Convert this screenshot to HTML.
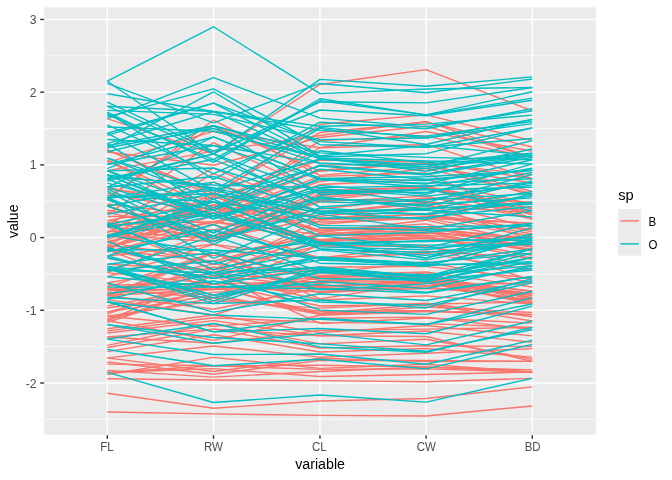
<!DOCTYPE html>
<html><head><meta charset="utf-8"><title>plot</title>
<style>
html,body{margin:0;padding:0;background:#fff;}
body{width:672px;height:480px;overflow:hidden;}
svg{display:block;will-change:transform;}
text{font-family:"Liberation Sans",sans-serif;}
.at{font-size:11.73px;fill:#4D4D4D;}
.ti{font-size:14.67px;fill:#000;}
.lt{font-size:11.73px;fill:#000;}
.b{stroke:#F8766D;}
.o{stroke:#00BFC4;}
</style></head><body>
<svg width="672" height="480" viewBox="0 0 672 480">
<rect x="0" y="0" width="672" height="480" fill="#FFFFFF"/>
<rect x="44.15" y="7.33" width="551.75" height="427.47" fill="#EBEBEB"/>
<defs><clipPath id="cp"><rect x="44.15" y="7.33" width="551.75" height="427.47"/></clipPath></defs>
<g stroke="#FFFFFF" stroke-width="0.71" fill="none">
<line x1="44.15" x2="595.9" y1="419.35" y2="419.35"/>
<line x1="44.15" x2="595.9" y1="346.65" y2="346.65"/>
<line x1="44.15" x2="595.9" y1="273.94" y2="273.94"/>
<line x1="44.15" x2="595.9" y1="201.24" y2="201.24"/>
<line x1="44.15" x2="595.9" y1="128.53" y2="128.53"/>
<line x1="44.15" x2="595.9" y1="55.82" y2="55.82"/>
</g>
<g stroke="#FFFFFF" stroke-width="1.42" fill="none">
<line x1="44.15" x2="595.9" y1="383.00" y2="383.00"/>
<line x1="44.15" x2="595.9" y1="310.29" y2="310.29"/>
<line x1="44.15" x2="595.9" y1="237.59" y2="237.59"/>
<line x1="44.15" x2="595.9" y1="164.88" y2="164.88"/>
<line x1="44.15" x2="595.9" y1="92.18" y2="92.18"/>
<line x1="44.15" x2="595.9" y1="19.47" y2="19.47"/>
<line x1="107.30" x2="107.30" y1="7.33" y2="434.8"/>
<line x1="213.50" x2="213.50" y1="7.33" y2="434.8"/>
<line x1="319.95" x2="319.95" y1="7.33" y2="434.8"/>
<line x1="426.10" x2="426.10" y1="7.33" y2="434.8"/>
<line x1="532.30" x2="532.30" y1="7.33" y2="434.8"/>
</g>
<g fill="none" stroke-width="1.42" stroke-linejoin="round" stroke-linecap="butt" clip-path="url(#cp)">
<polyline class="b" points="107.30,393.24 213.50,408.20 319.95,401.05 426.10,398.43 532.30,386.84"/>
<polyline class="b" points="107.30,378.68 213.50,379.94 319.95,380.63 426.10,381.80 532.30,378.35"/>
<polyline class="b" points="107.30,370.36 213.50,377.12 319.95,371.43 426.10,367.03 532.30,371.98"/>
<polyline class="b" points="107.30,362.04 213.50,374.29 319.95,360.20 426.10,360.56 532.30,361.37"/>
<polyline class="b" points="107.30,357.88 213.50,371.47 319.95,358.16 426.10,361.49 532.30,361.37"/>
<polyline class="b" points="107.30,337.08 213.50,343.21 319.95,330.58 426.10,329.16 532.30,327.40"/>
<polyline class="b" points="107.30,330.84 213.50,317.79 319.95,322.41 426.10,323.62 532.30,327.40"/>
<polyline class="b" points="107.30,320.44 213.50,340.39 319.95,315.26 426.10,311.61 532.30,314.66"/>
<polyline class="b" points="107.30,316.28 213.50,326.26 319.95,318.33 426.10,317.15 532.30,329.52"/>
<polyline class="b" points="107.30,316.28 213.50,300.83 319.95,308.11 426.10,303.30 532.30,316.78"/>
<polyline class="b" points="107.30,307.96 213.50,292.36 319.95,286.67 426.10,282.06 532.30,304.05"/>
<polyline class="b" points="107.30,305.88 213.50,286.71 319.95,291.77 426.10,282.98 532.30,293.43"/>
<polyline class="b" points="107.30,299.64 213.50,314.96 319.95,282.58 426.10,281.13 532.30,293.43"/>
<polyline class="b" points="107.30,295.48 213.50,309.31 319.95,287.69 426.10,280.21 532.30,304.05"/>
<polyline class="b" points="107.30,295.48 213.50,289.53 319.95,285.65 426.10,282.98 532.30,301.92"/>
<polyline class="b" points="107.30,293.40 213.50,286.71 319.95,291.77 426.10,288.52 532.30,293.43"/>
<polyline class="b" points="107.30,289.24 213.50,298.01 319.95,277.47 426.10,275.59 532.30,301.92"/>
<polyline class="b" points="107.30,289.24 213.50,289.53 319.95,276.45 426.10,274.67 532.30,297.68"/>
<polyline class="b" points="107.30,285.08 213.50,283.88 319.95,281.56 426.10,275.59 532.30,295.55"/>
<polyline class="b" points="107.30,272.60 213.50,283.88 319.95,267.26 426.10,266.35 532.30,278.57"/>
<polyline class="b" points="107.30,264.28 213.50,269.75 319.95,245.81 426.10,246.03 532.30,265.83"/>
<polyline class="b" points="107.30,258.04 213.50,278.23 319.95,239.69 426.10,237.72 532.30,244.60"/>
<polyline class="b" points="107.30,249.71 213.50,289.53 319.95,244.79 426.10,237.72 532.30,255.22"/>
<polyline class="b" points="107.30,249.71 213.50,272.58 319.95,234.58 426.10,232.18 532.30,250.97"/>
<polyline class="b" points="107.30,249.71 213.50,261.28 319.95,233.56 426.10,230.33 532.30,246.73"/>
<polyline class="b" points="107.30,245.55 213.50,255.63 319.95,235.60 426.10,234.95 532.30,246.73"/>
<polyline class="b" points="107.30,241.39 213.50,264.10 319.95,228.45 426.10,227.56 532.30,246.73"/>
<polyline class="b" points="107.30,235.15 213.50,241.50 319.95,199.86 426.10,201.70 532.30,227.62"/>
<polyline class="b" points="107.30,230.99 213.50,238.68 319.95,218.24 426.10,214.63 532.30,233.99"/>
<polyline class="b" points="107.30,226.83 213.50,269.75 319.95,220.28 426.10,213.71 532.30,229.74"/>
<polyline class="b" points="107.30,226.83 213.50,235.85 319.95,209.05 426.10,198.01 532.30,202.15"/>
<polyline class="b" points="107.30,224.75 213.50,221.72 319.95,197.81 426.10,188.77 532.30,208.51"/>
<polyline class="b" points="107.30,222.67 213.50,238.68 319.95,201.90 426.10,196.16 532.30,219.13"/>
<polyline class="b" points="107.30,220.59 213.50,230.20 319.95,200.88 426.10,187.85 532.30,212.76"/>
<polyline class="b" points="107.30,216.43 213.50,216.07 319.95,176.37 426.10,173.07 532.30,219.13"/>
<polyline class="b" points="107.30,212.27 213.50,235.85 319.95,195.77 426.10,187.85 532.30,219.13"/>
<polyline class="b" points="107.30,210.19 213.50,224.55 319.95,184.54 426.10,179.53 532.30,204.27"/>
<polyline class="b" points="107.30,206.03 213.50,241.50 319.95,193.73 426.10,186.00 532.30,214.88"/>
<polyline class="b" points="107.30,206.03 213.50,238.68 319.95,190.66 426.10,186.92 532.30,204.27"/>
<polyline class="b" points="107.30,203.95 213.50,216.07 319.95,181.47 426.10,168.45 532.30,193.65"/>
<polyline class="b" points="107.30,193.55 213.50,213.25 319.95,170.24 426.10,162.91 532.30,195.78"/>
<polyline class="b" points="107.30,189.39 213.50,199.12 319.95,160.03 426.10,161.99 532.30,178.79"/>
<polyline class="b" points="107.30,187.31 213.50,210.42 319.95,165.13 426.10,163.83 532.30,191.53"/>
<polyline class="b" points="107.30,170.67 213.50,151.09 319.95,135.51 426.10,121.35 532.30,157.56"/>
<polyline class="b" points="107.30,160.27 213.50,216.07 319.95,140.62 426.10,136.13 532.30,157.56"/>
<polyline class="b" points="107.30,160.27 213.50,207.60 319.95,147.77 426.10,144.44 532.30,178.79"/>
<polyline class="b" points="107.30,151.95 213.50,165.22 319.95,137.56 426.10,125.97 532.30,157.56"/>
<polyline class="b" points="107.30,149.87 213.50,196.30 319.95,124.28 426.10,114.88 532.30,140.58"/>
<polyline class="b" points="107.30,149.87 213.50,193.47 319.95,132.45 426.10,122.27 532.30,146.95"/>
<polyline class="b" points="107.30,118.67 213.50,153.92 319.95,84.45 426.10,69.63 532.30,110.86"/>
<polyline class="b" points="107.30,411.96 213.50,413.85 319.95,415.35 426.10,415.98 532.30,405.95"/>
<polyline class="b" points="107.30,374.52 213.50,357.34 319.95,368.37 426.10,364.26 532.30,371.98"/>
<polyline class="b" points="107.30,372.44 213.50,368.64 319.95,376.54 426.10,374.42 532.30,371.98"/>
<polyline class="b" points="107.30,372.44 213.50,365.82 319.95,369.39 426.10,368.87 532.30,371.98"/>
<polyline class="b" points="107.30,364.12 213.50,365.82 319.95,365.31 426.10,367.03 532.30,369.86"/>
<polyline class="b" points="107.30,357.88 213.50,346.04 319.95,357.14 426.10,353.17 532.30,348.63"/>
<polyline class="b" points="107.30,351.64 213.50,334.74 319.95,352.03 426.10,348.55 532.30,357.12"/>
<polyline class="b" points="107.30,347.48 213.50,329.09 319.95,347.94 426.10,345.78 532.30,346.51"/>
<polyline class="b" points="107.30,345.40 213.50,323.44 319.95,343.86 426.10,339.32 532.30,359.24"/>
<polyline class="b" points="107.30,337.08 213.50,329.09 319.95,335.69 426.10,331.01 532.30,342.26"/>
<polyline class="b" points="107.30,332.92 213.50,320.61 319.95,335.69 426.10,336.55 532.30,361.37"/>
<polyline class="b" points="107.30,328.76 213.50,314.96 319.95,332.62 426.10,325.46 532.30,335.89"/>
<polyline class="b" points="107.30,322.52 213.50,286.71 319.95,313.22 426.10,304.22 532.30,321.03"/>
<polyline class="b" points="107.30,320.44 213.50,286.71 319.95,314.24 426.10,310.69 532.30,314.66"/>
<polyline class="b" points="107.30,320.44 213.50,275.41 319.95,323.43 426.10,318.08 532.30,323.15"/>
<polyline class="b" points="107.30,318.36 213.50,298.01 319.95,311.18 426.10,310.69 532.30,314.66"/>
<polyline class="b" points="107.30,314.20 213.50,275.41 319.95,299.94 426.10,295.91 532.30,304.05"/>
<polyline class="b" points="107.30,312.12 213.50,295.18 319.95,314.24 426.10,306.99 532.30,312.54"/>
<polyline class="b" points="107.30,312.12 213.50,283.88 319.95,306.07 426.10,304.22 532.30,301.92"/>
<polyline class="b" points="107.30,299.64 213.50,252.80 319.95,298.92 426.10,282.06 532.30,297.68"/>
<polyline class="b" points="107.30,295.48 213.50,266.93 319.95,288.71 426.10,285.75 532.30,282.82"/>
<polyline class="b" points="107.30,295.48 213.50,252.80 319.95,292.79 426.10,286.67 532.30,299.80"/>
<polyline class="b" points="107.30,295.48 213.50,252.80 319.95,280.54 426.10,279.28 532.30,291.31"/>
<polyline class="b" points="107.30,291.32 213.50,275.41 319.95,286.67 426.10,280.21 532.30,295.55"/>
<polyline class="b" points="107.30,289.24 213.50,272.58 319.95,283.60 426.10,272.82 532.30,299.80"/>
<polyline class="b" points="107.30,287.16 213.50,252.80 319.95,280.54 426.10,277.44 532.30,291.31"/>
<polyline class="b" points="107.30,283.00 213.50,264.10 319.95,275.43 426.10,271.90 532.30,287.06"/>
<polyline class="b" points="107.30,276.76 213.50,244.33 319.95,273.39 426.10,261.74 532.30,282.82"/>
<polyline class="b" points="107.30,272.60 213.50,230.20 319.95,259.09 426.10,251.58 532.30,257.34"/>
<polyline class="b" points="107.30,255.96 213.50,244.33 319.95,258.07 426.10,253.42 532.30,270.08"/>
<polyline class="b" points="107.30,251.80 213.50,224.55 319.95,258.07 426.10,245.11 532.30,280.69"/>
<polyline class="b" points="107.30,249.71 213.50,207.60 319.95,241.73 426.10,233.10 532.30,238.24"/>
<polyline class="b" points="107.30,249.71 213.50,196.30 319.95,230.50 426.10,228.49 532.30,238.24"/>
<polyline class="b" points="107.30,247.63 213.50,221.72 319.95,240.71 426.10,238.65 532.30,248.85"/>
<polyline class="b" points="107.30,247.63 213.50,216.07 319.95,239.69 426.10,232.18 532.30,242.48"/>
<polyline class="b" points="107.30,247.63 213.50,207.60 319.95,241.73 426.10,235.87 532.30,259.46"/>
<polyline class="b" points="107.30,245.55 213.50,193.47 319.95,219.26 426.10,218.33 532.30,223.37"/>
<polyline class="b" points="107.30,243.47 213.50,196.30 319.95,232.54 426.10,220.17 532.30,242.48"/>
<polyline class="b" points="107.30,241.39 213.50,221.72 319.95,234.58 426.10,226.64 532.30,242.48"/>
<polyline class="b" points="107.30,239.31 213.50,207.60 319.95,224.37 426.10,216.48 532.30,223.37"/>
<polyline class="b" points="107.30,237.23 213.50,204.77 319.95,230.50 426.10,223.87 532.30,250.97"/>
<polyline class="b" points="107.30,237.23 213.50,182.17 319.95,219.26 426.10,209.09 532.30,231.87"/>
<polyline class="b" points="107.30,235.15 213.50,204.77 319.95,222.32 426.10,218.33 532.30,236.11"/>
<polyline class="b" points="107.30,233.07 213.50,173.69 319.95,213.13 426.10,201.70 532.30,210.64"/>
<polyline class="b" points="107.30,224.75 213.50,168.04 319.95,213.13 426.10,203.55 532.30,240.36"/>
<polyline class="b" points="107.30,220.59 213.50,201.95 319.95,216.20 426.10,206.32 532.30,212.76"/>
<polyline class="b" points="107.30,214.35 213.50,142.61 319.95,191.69 426.10,186.92 532.30,208.51"/>
<polyline class="b" points="107.30,199.79 213.50,120.01 319.95,175.35 426.10,166.60 532.30,183.04"/>
<polyline class="b" points="107.30,197.71 213.50,125.66 319.95,171.26 426.10,162.91 532.30,174.55"/>
<polyline class="b" points="107.30,162.35 213.50,131.31 319.95,147.77 426.10,131.51 532.30,151.19"/>
<polyline class="o" points="107.30,372.44 213.50,402.55 319.95,394.92 426.10,402.12 532.30,378.35"/>
<polyline class="o" points="107.30,349.56 213.50,365.82 319.95,359.18 426.10,368.87 532.30,344.38"/>
<polyline class="o" points="107.30,339.16 213.50,354.52 319.95,354.07 426.10,364.26 532.30,340.14"/>
<polyline class="o" points="107.30,324.60 213.50,343.21 319.95,333.65 426.10,344.86 532.30,321.03"/>
<polyline class="o" points="107.30,301.72 213.50,331.91 319.95,328.54 426.10,333.78 532.30,306.17"/>
<polyline class="o" points="107.30,301.72 213.50,331.91 319.95,318.33 426.10,324.54 532.30,297.68"/>
<polyline class="o" points="107.30,297.56 213.50,303.66 319.95,299.94 426.10,307.92 532.30,278.57"/>
<polyline class="o" points="107.30,287.16 213.50,286.71 319.95,288.71 426.10,293.14 532.30,276.45"/>
<polyline class="o" points="107.30,283.00 213.50,312.14 319.95,293.82 426.10,300.53 532.30,280.69"/>
<polyline class="o" points="107.30,276.76 213.50,286.71 319.95,284.62 426.10,292.21 532.30,276.45"/>
<polyline class="o" points="107.30,270.52 213.50,272.58 319.95,267.26 426.10,276.51 532.30,257.34"/>
<polyline class="o" points="107.30,268.44 213.50,303.66 319.95,270.33 426.10,280.21 532.30,248.85"/>
<polyline class="o" points="107.30,268.44 213.50,300.83 319.95,268.28 426.10,282.06 532.30,257.34"/>
<polyline class="o" points="107.30,268.44 213.50,295.18 319.95,272.37 426.10,279.28 532.30,253.10"/>
<polyline class="o" points="107.30,266.36 213.50,298.01 319.95,272.37 426.10,281.13 532.30,261.59"/>
<polyline class="o" points="107.30,266.36 213.50,295.18 319.95,281.56 426.10,288.52 532.30,265.83"/>
<polyline class="o" points="107.30,266.36 213.50,278.23 319.95,267.26 426.10,276.51 532.30,248.85"/>
<polyline class="o" points="107.30,258.04 213.50,278.23 319.95,260.11 426.10,264.51 532.30,263.71"/>
<polyline class="o" points="107.30,255.96 213.50,283.88 319.95,269.30 426.10,277.44 532.30,257.34"/>
<polyline class="o" points="107.30,247.63 213.50,275.41 319.95,257.05 426.10,266.35 532.30,238.24"/>
<polyline class="o" points="107.30,247.63 213.50,272.58 319.95,249.90 426.10,259.89 532.30,240.36"/>
<polyline class="o" points="107.30,241.39 213.50,283.88 319.95,257.05 426.10,263.58 532.30,248.85"/>
<polyline class="o" points="107.30,235.15 213.50,252.80 319.95,241.73 426.10,258.04 532.30,233.99"/>
<polyline class="o" points="107.30,224.75 213.50,264.10 319.95,235.60 426.10,247.88 532.30,223.37"/>
<polyline class="o" points="107.30,222.67 213.50,269.75 319.95,242.75 426.10,258.04 532.30,227.62"/>
<polyline class="o" points="107.30,206.03 213.50,241.50 319.95,208.03 426.10,214.63 532.30,202.15"/>
<polyline class="o" points="107.30,199.79 213.50,235.85 319.95,196.79 426.10,209.09 532.30,191.53"/>
<polyline class="o" points="107.30,197.71 213.50,258.45 319.95,214.15 426.10,229.41 532.30,210.64"/>
<polyline class="o" points="107.30,197.71 213.50,238.68 319.95,212.11 426.10,219.25 532.30,193.65"/>
<polyline class="o" points="107.30,191.47 213.50,244.33 319.95,197.81 426.10,206.32 532.30,180.92"/>
<polyline class="o" points="107.30,189.39 213.50,233.03 319.95,188.62 426.10,196.16 532.30,185.16"/>
<polyline class="o" points="107.30,187.31 213.50,218.90 319.95,190.66 426.10,192.47 532.30,172.42"/>
<polyline class="o" points="107.30,183.15 213.50,210.42 319.95,169.22 426.10,179.53 532.30,170.30"/>
<polyline class="o" points="107.30,178.99 213.50,218.90 319.95,178.41 426.10,184.15 532.30,159.69"/>
<polyline class="o" points="107.30,174.83 213.50,218.90 319.95,179.43 426.10,186.92 532.30,168.18"/>
<polyline class="o" points="107.30,174.83 213.50,216.07 319.95,188.62 426.10,202.62 532.30,174.55"/>
<polyline class="o" points="107.30,170.67 213.50,218.90 319.95,185.56 426.10,194.31 532.30,163.93"/>
<polyline class="o" points="107.30,170.67 213.50,207.60 319.95,165.13 426.10,173.99 532.30,155.44"/>
<polyline class="o" points="107.30,158.19 213.50,199.12 319.95,166.15 426.10,174.92 532.30,157.56"/>
<polyline class="o" points="107.30,158.19 213.50,190.64 319.95,159.00 426.10,164.76 532.30,155.44"/>
<polyline class="o" points="107.30,143.63 213.50,210.42 319.95,150.83 426.10,162.91 532.30,153.32"/>
<polyline class="o" points="107.30,133.23 213.50,190.64 319.95,128.37 426.10,144.44 532.30,119.35"/>
<polyline class="o" points="107.30,124.91 213.50,173.69 319.95,127.34 426.10,137.97 532.30,123.60"/>
<polyline class="o" points="107.30,114.51 213.50,159.57 319.95,100.79 426.10,114.88 532.30,91.75"/>
<polyline class="o" points="107.30,112.43 213.50,162.39 319.95,98.75 426.10,114.88 532.30,98.12"/>
<polyline class="o" points="107.30,112.43 213.50,179.34 319.95,122.24 426.10,128.74 532.30,108.74"/>
<polyline class="o" points="107.30,106.19 213.50,153.92 319.95,101.81 426.10,102.88 532.30,87.51"/>
<polyline class="o" points="107.30,102.03 213.50,151.09 319.95,109.98 426.10,115.81 532.30,100.24"/>
<polyline class="o" points="107.30,83.31 213.50,122.84 319.95,83.43 426.10,92.72 532.30,79.01"/>
<polyline class="o" points="107.30,81.23 213.50,153.92 319.95,79.34 426.10,86.25 532.30,76.89"/>
<polyline class="o" points="107.30,339.16 213.50,323.44 319.95,346.92 426.10,352.25 532.30,327.40"/>
<polyline class="o" points="107.30,324.60 213.50,337.56 319.95,343.86 426.10,351.33 532.30,329.52"/>
<polyline class="o" points="107.30,301.72 213.50,314.96 319.95,319.35 426.10,324.54 532.30,304.05"/>
<polyline class="o" points="107.30,299.64 213.50,272.58 319.95,310.16 426.10,314.38 532.30,291.31"/>
<polyline class="o" points="107.30,293.40 213.50,281.06 319.95,301.99 426.10,305.15 532.30,282.82"/>
<polyline class="o" points="107.30,270.52 213.50,261.28 319.95,289.73 426.10,283.90 532.30,267.96"/>
<polyline class="o" points="107.30,270.52 213.50,235.85 319.95,271.35 426.10,274.67 532.30,265.83"/>
<polyline class="o" points="107.30,264.28 213.50,252.80 319.95,278.50 426.10,280.21 532.30,270.08"/>
<polyline class="o" points="107.30,255.96 213.50,224.55 319.95,263.18 426.10,265.43 532.30,261.59"/>
<polyline class="o" points="107.30,251.80 213.50,230.20 319.95,259.09 426.10,262.66 532.30,253.10"/>
<polyline class="o" points="107.30,249.71 213.50,249.98 319.95,258.07 426.10,266.35 532.30,238.24"/>
<polyline class="o" points="107.30,237.23 213.50,216.07 319.95,246.84 426.10,249.73 532.30,236.11"/>
<polyline class="o" points="107.30,237.23 213.50,201.95 319.95,242.75 426.10,247.88 532.30,242.48"/>
<polyline class="o" points="107.30,237.23 213.50,199.12 319.95,248.88 426.10,255.27 532.30,242.48"/>
<polyline class="o" points="107.30,235.15 213.50,213.25 319.95,248.88 426.10,252.50 532.30,242.48"/>
<polyline class="o" points="107.30,226.83 213.50,213.25 319.95,242.75 426.10,241.42 532.30,238.24"/>
<polyline class="o" points="107.30,226.83 213.50,210.42 319.95,244.79 426.10,240.49 532.30,240.36"/>
<polyline class="o" points="107.30,224.75 213.50,201.95 319.95,242.75 426.10,245.11 532.30,244.60"/>
<polyline class="o" points="107.30,214.35 213.50,193.47 319.95,235.60 426.10,232.18 532.30,223.37"/>
<polyline class="o" points="107.30,206.03 213.50,187.82 319.95,227.43 426.10,230.33 532.30,225.50"/>
<polyline class="o" points="107.30,197.71 213.50,193.47 319.95,213.13 426.10,208.17 532.30,204.27"/>
<polyline class="o" points="107.30,197.71 213.50,190.64 319.95,213.13 426.10,213.71 532.30,195.78"/>
<polyline class="o" points="107.30,197.71 213.50,182.17 319.95,225.39 426.10,226.64 532.30,225.50"/>
<polyline class="o" points="107.30,195.63 213.50,201.95 319.95,218.24 426.10,217.40 532.30,206.39"/>
<polyline class="o" points="107.30,187.31 213.50,176.52 319.95,211.09 426.10,209.09 532.30,202.15"/>
<polyline class="o" points="107.30,187.31 213.50,136.96 319.95,178.41 426.10,176.76 532.30,170.30"/>
<polyline class="o" points="107.30,181.07 213.50,153.92 319.95,207.01 426.10,199.85 532.30,193.65"/>
<polyline class="o" points="107.30,178.99 213.50,159.57 319.95,201.90 426.10,204.47 532.30,197.90"/>
<polyline class="o" points="107.30,178.99 213.50,153.92 319.95,192.71 426.10,189.69 532.30,187.28"/>
<polyline class="o" points="107.30,176.91 213.50,184.99 319.95,187.60 426.10,186.00 532.30,183.04"/>
<polyline class="o" points="107.30,174.83 213.50,187.82 319.95,211.09 426.10,210.01 532.30,217.01"/>
<polyline class="o" points="107.30,170.67 213.50,168.04 319.95,199.86 426.10,199.85 532.30,183.04"/>
<polyline class="o" points="107.30,168.59 213.50,125.66 319.95,194.75 426.10,188.77 532.30,210.64"/>
<polyline class="o" points="107.30,164.43 213.50,145.44 319.95,179.43 426.10,183.23 532.30,178.79"/>
<polyline class="o" points="107.30,164.43 213.50,136.96 319.95,178.41 426.10,180.46 532.30,170.30"/>
<polyline class="o" points="107.30,151.95 213.50,125.66 319.95,157.98 426.10,171.22 532.30,149.07"/>
<polyline class="o" points="107.30,147.79 213.50,128.49 319.95,163.09 426.10,168.45 532.30,155.44"/>
<polyline class="o" points="107.30,147.79 213.50,91.76 319.95,155.94 426.10,145.36 532.30,155.44"/>
<polyline class="o" points="107.30,145.71 213.50,125.66 319.95,152.88 426.10,157.37 532.30,159.69"/>
<polyline class="o" points="107.30,143.63 213.50,111.53 319.95,159.00 426.10,166.60 532.30,140.58"/>
<polyline class="o" points="107.30,139.47 213.50,145.44 319.95,163.09 426.10,166.60 532.30,153.32"/>
<polyline class="o" points="107.30,135.31 213.50,103.06 319.95,156.96 426.10,153.67 532.30,127.84"/>
<polyline class="o" points="107.30,133.23 213.50,103.06 319.95,141.64 426.10,147.21 532.30,127.84"/>
<polyline class="o" points="107.30,126.99 213.50,131.31 319.95,157.98 426.10,161.06 532.30,163.93"/>
<polyline class="o" points="107.30,118.67 213.50,77.63 319.95,118.15 426.10,126.89 532.30,110.86"/>
<polyline class="o" points="107.30,116.59 213.50,88.93 319.95,144.71 426.10,147.21 532.30,138.46"/>
<polyline class="o" points="107.30,110.35 213.50,114.36 319.95,139.60 426.10,137.97 532.30,119.35"/>
<polyline class="o" points="107.30,106.19 213.50,111.53 319.95,130.41 426.10,136.13 532.30,121.47"/>
<polyline class="o" points="107.30,93.71 213.50,111.53 319.95,126.32 426.10,124.12 532.30,115.10"/>
<polyline class="o" points="107.30,81.23 213.50,26.77 319.95,93.64 426.10,89.02 532.30,87.51"/>
</g>
<g stroke="#333333" stroke-width="1.42" fill="none">
<line x1="40.20" x2="44.15" y1="383.00" y2="383.00"/>
<line x1="40.20" x2="44.15" y1="310.29" y2="310.29"/>
<line x1="40.20" x2="44.15" y1="237.59" y2="237.59"/>
<line x1="40.20" x2="44.15" y1="164.88" y2="164.88"/>
<line x1="40.20" x2="44.15" y1="92.18" y2="92.18"/>
<line x1="40.20" x2="44.15" y1="19.47" y2="19.47"/>
<line x1="107.30" x2="107.30" y1="435.20" y2="438.85"/>
<line x1="213.50" x2="213.50" y1="435.20" y2="438.85"/>
<line x1="319.95" x2="319.95" y1="435.20" y2="438.85"/>
<line x1="426.10" x2="426.10" y1="435.20" y2="438.85"/>
<line x1="532.30" x2="532.30" y1="435.20" y2="438.85"/>
</g>
<text class="at" transform="translate(36.50,387.50) scale(1.04,1.08)" text-anchor="end">-2</text>
<text class="at" transform="translate(36.50,314.79) scale(1.04,1.08)" text-anchor="end">-1</text>
<text class="at" transform="translate(36.50,242.09) scale(1.04,1.08)" text-anchor="end">0</text>
<text class="at" transform="translate(36.50,169.38) scale(1.04,1.08)" text-anchor="end">1</text>
<text class="at" transform="translate(36.50,96.68) scale(1.04,1.08)" text-anchor="end">2</text>
<text class="at" transform="translate(36.50,23.97) scale(1.04,1.08)" text-anchor="end">3</text>
<text class="at" transform="translate(107.05,451.10) scale(0.98,1.07)" text-anchor="middle">FL</text>
<text class="at" transform="translate(213.40,451.10) scale(0.98,1.07)" text-anchor="middle">RW</text>
<text class="at" transform="translate(319.30,451.10) scale(0.98,1.07)" text-anchor="middle">CL</text>
<text class="at" transform="translate(426.30,451.10) scale(0.98,1.07)" text-anchor="middle">CW</text>
<text class="at" transform="translate(532.60,451.10) scale(0.98,1.07)" text-anchor="middle">BD</text>
<text class="ti" transform="translate(320.10,468.70) scale(0.972,1.0)" text-anchor="middle">variable</text>
<text class="ti" transform="translate(18.40,221.30) rotate(-90) scale(0.96,1.0)" text-anchor="middle">value</text>
<text class="ti" transform="translate(618.20,200.10) scale(1.0,1.0)" text-anchor="start">sp</text>
<rect x="618.2" y="209.0" width="23.04" height="46.6" fill="#EBEBEB"/>
<line x1="620.5" x2="638.9" y1="220.9" y2="220.9" stroke="#F8766D" stroke-width="1.42"/>
<line x1="620.5" x2="638.9" y1="243.85" y2="243.85" stroke="#00BFC4" stroke-width="1.42"/>
<text class="lt" transform="translate(648.40,226.00) scale(0.98,1.07)" text-anchor="start">B</text>
<text class="lt" transform="translate(648.40,249.00) scale(0.98,1.07)" text-anchor="start">O</text>
</svg>
</body></html>
